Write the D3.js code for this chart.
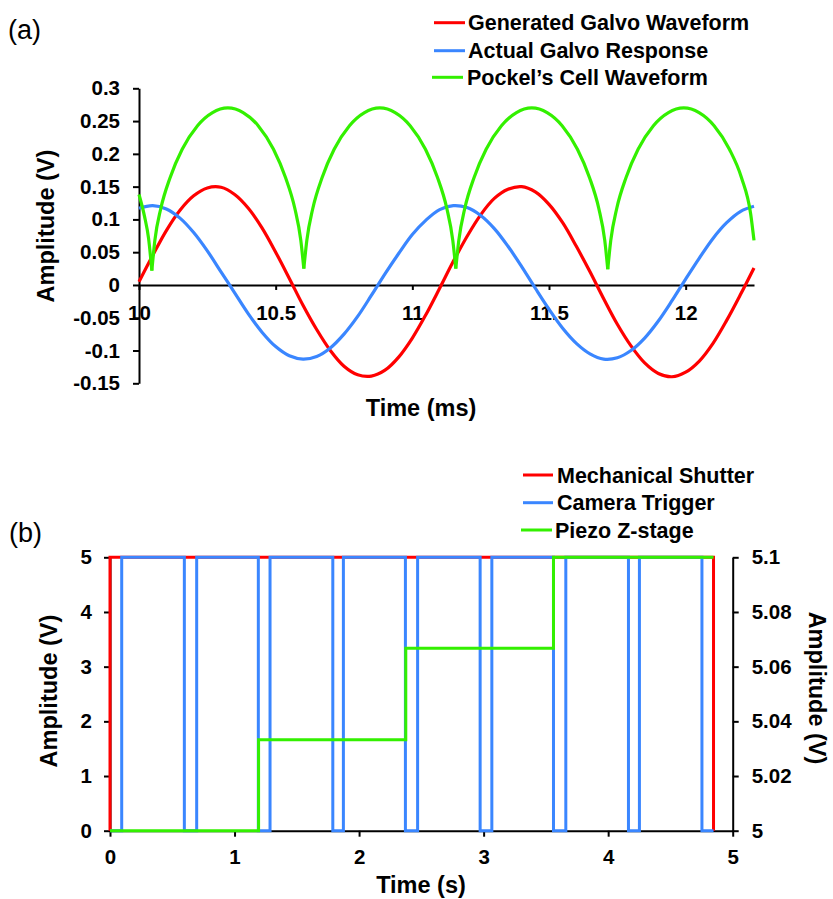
<!DOCTYPE html>
<html><head><meta charset="utf-8">
<script src="https://cdn.jsdelivr.net/npm/d3@7"></script>
<style>
body{margin:0;background:#fff;}
svg{display:block;font-family:"Liberation Sans",Arial,sans-serif;}
</style></head><body>
<svg id="c" width="833" height="899"></svg>
<script>
// ---------- Panel (a) data ----------
const timeA = [10,10.05,10.1,10.15,10.2,10.25,10.3,10.35,10.4,10.45,10.5,10.55,10.6,10.65,10.7,10.75,10.8,10.85,10.9,10.95,
  11,11.05,11.1,11.15,11.2,11.25,11.3,11.35,11.4,11.45,11.5,11.55,11.6,11.65,11.7,11.75,11.8,11.85,11.9,11.95,
  12,12.05,12.1,12.15,12.2,12.25];
const generatedGalvo = [0.005,0.045,0.083,0.114,0.136,0.148,0.149,0.138,0.117,0.087,0.050,0.010,-0.031,-0.068,-0.100,-0.124,-0.137,-0.139,-0.130,-0.110,
  -0.081,-0.045,-0.005,0.036,0.074,0.107,0.132,0.146,0.150,0.142,0.123,0.095,0.059,0.020,-0.021,-0.060,-0.093,-0.119,-0.135,-0.140,
  -0.133,-0.116,-0.089,-0.054,-0.015,0.026];
const actualGalvo = [0.117,0.121,0.116,0.102,0.080,0.052,0.020,-0.012,-0.044,-0.072,-0.094,-0.108,-0.113,-0.109,-0.096,-0.075,-0.048,-0.016,0.017,0.048,
  0.077,0.099,0.115,0.121,0.118,0.106,0.086,0.059,0.028,-0.005,-0.037,-0.066,-0.089,-0.105,-0.113,-0.111,-0.100,-0.081,-0.055,-0.024,
  0.009,0.041,0.071,0.095,0.112,0.120];
const pockelsTime = [10,10.02,10.035,10.047,
  10.058,10.080,10.114,10.158,10.214,10.269,10.325,10.381,10.436,10.492,10.536,10.570,10.592,10.603,
  10.614,10.636,10.670,10.714,10.770,10.825,10.881,10.937,10.992,11.048,11.092,11.126,11.148,11.159,
  11.170,11.192,11.226,11.270,11.326,11.381,11.437,11.493,11.548,11.604,11.648,11.682,11.704,11.715,
  11.726,11.748,11.782,11.826,11.882,11.937,11.993,12.049,12.104,12.160,12.204,12.238,12.25];
const pockelsCell = [0.138,0.105,0.071,0.022,
  0.068,0.117,0.164,0.207,0.243,0.263,0.270,0.263,0.243,0.207,0.164,0.117,0.068,0.025,
  0.068,0.117,0.164,0.207,0.243,0.263,0.270,0.263,0.243,0.207,0.164,0.117,0.068,0.025,
  0.068,0.117,0.164,0.207,0.243,0.263,0.270,0.263,0.243,0.207,0.164,0.117,0.068,0.024,
  0.068,0.117,0.164,0.207,0.243,0.263,0.270,0.263,0.243,0.207,0.164,0.108,0.068];
const xTicksA = [10,10.5,11,11.5,12];
const yTicksA = [-0.15,-0.1,-0.05,0,0.05,0.1,0.15,0.2,0.25,0.3];
const legendA = ["Generated Galvo Waveform","Actual Galvo Response","Pockel\u2019s Cell Waveform"];

// ---------- Panel (b) data ----------
const shutterTime = [0,0,4.846];
const shutterV    = [0,5,0];
const cameraTime = [0,0.094,0.597,0.696,1.191,1.285,1.789,1.874,2.372,2.470,2.972,3.066,3.561,3.660,4.163,4.251,4.753,4.846];
const cameraV    = [0,5,0,5,0,5,0,5,0,5,0,5,0,5,0,5,0,0];
const piezoTime = [0,1.193,2.375,3.561,4.846];
const piezoV    = [5,5.0333,5.0667,5.1,5.1];
const xTicksB = [0,1,2,3,4,5];
const yTicksB = [0,1,2,3,4,5];
const yTicksBR = [5,5.02,5.04,5.06,5.08,5.1];
const legendB = ["Mechanical Shutter","Camera Trigger","Piezo Z-stage"];

const colors = ["#FF0000","#3A86FF","#33F000"];

const svg = d3.select("#c");
const fmt = d => String(+(+d).toFixed(2));

function styleAxis(g, fs){
  g.selectAll("path.domain").attr("stroke","#000").attr("stroke-width",2);
  g.selectAll(".tick line").attr("stroke","#000").attr("stroke-width",2);
  g.selectAll(".tick text").attr("fill","#000").attr("font-size",fs).attr("font-weight","bold")
    .attr("font-family","'Liberation Sans',Arial,sans-serif");
}

// ================= Panel (a) =================
const xA = d3.scaleLinear().domain([10,12.25]).range([139,754]);
const yA = d3.scaleLinear().domain([-0.15,0.3]).range([383.3,88.3]);

svg.append("text").attr("x",8).attr("y",39).attr("font-size",27).text("(a)");

const gxA = svg.append("g").attr("transform",`translate(0,${yA(0)})`)
  .call(d3.axisBottom(xA).tickValues(xTicksA).tickSize(5).tickPadding(15).tickSizeOuter(0).tickFormat(fmt));
styleAxis(gxA,20.5);
const gyA = svg.append("g").attr("transform",`translate(${xA(10)},0)`)
  .call(d3.axisLeft(yA).tickValues(yTicksA).tickSize(6).tickPadding(13).tickSizeOuter(0).tickFormat(fmt));
styleAxis(gyA,20.5);

svg.append("text").attr("transform","translate(46,226) rotate(-90)").attr("text-anchor","middle")
  .attr("dy","0.35em").attr("font-size",23.5).attr("font-weight","bold").text("Amplitude (V)");
svg.append("text").attr("x",421).attr("y",416).attr("text-anchor","middle")
  .attr("font-size",23.5).attr("font-weight","bold").text("Time (ms)");

const lineA = d3.line().x(d=>xA(d[0])).y(d=>yA(d[1])).curve(d3.curveCatmullRom.alpha(0.5));
[generatedGalvo, actualGalvo].forEach((s,i)=>{
  svg.append("path").attr("d", lineA(timeA.map((t,j)=>[t,s[j]])))
    .attr("fill","none").attr("stroke",colors[i]).attr("stroke-width",3.2);
});
// Pockel's cell: split at cusps (local minima) so each arch is drawn smooth with sharp cusps
(function(){
  const pts = pockelsTime.map((t,j)=>[t,pockelsCell[j]]);
  const segs=[]; let cur=[pts[0]];
  for(let j=1;j<pts.length;j++){
    cur.push(pts[j]);
    if(j<pts.length-1 && pts[j][1]<pts[j-1][1] && pts[j][1]<pts[j+1][1]){ segs.push(cur); cur=[pts[j]]; }
  }
  segs.push(cur);
  const lg = d3.line().x(d=>xA(d[0])).y(d=>yA(d[1])).curve(d3.curveMonotoneX);
  segs.forEach(s=>svg.append("path").attr("d",lg(s)).attr("fill","none")
    .attr("stroke",colors[2]).attr("stroke-width",3.2).attr("stroke-linejoin","miter"));
})();

// legend (a)
legendA.forEach((l,i)=>{
  const y=[22.7,50.7,77.3][i];
  svg.append("line").attr("x1",i==2?432:434).attr("x2",i==2?463:465).attr("y1",y).attr("y2",y)
    .attr("stroke",colors[i]).attr("stroke-width",3);
  svg.append("text").attr("x",i==2?467:468).attr("y",y).attr("dy","0.36em").attr("font-size",21.5)
    .attr("font-weight","bold").text(l);
});

// ================= Panel (b) =================
const xB = d3.scaleLinear().domain([0,5]).range([110,732.7]);
const yB = d3.scaleLinear().domain([0,5]).range([830.7,557.3]);
const yBR = d3.scaleLinear().domain([5,5.1]).range([830.7,557.3]);

svg.append("text").attr("x",9).attr("y",542).attr("font-size",27).text("(b)");

const gxB = svg.append("g").attr("transform",`translate(0,${yB(0)})`)
  .call(d3.axisBottom(xB).tickValues(xTicksB).tickSize(6).tickPadding(13).tickSizeOuter(0).tickFormat(fmt));
styleAxis(gxB,20.5);
const gyB = svg.append("g").attr("transform",`translate(${xB(0)},0)`)
  .call(d3.axisLeft(yB).tickValues(yTicksB).tickSize(6).tickPadding(12).tickSizeOuter(0).tickFormat(fmt));
styleAxis(gyB,20.5);
const gyBR = svg.append("g").attr("transform",`translate(${xB(5)},0)`)
  .call(d3.axisRight(yBR).tickValues(yTicksBR).tickSize(6).tickPadding(13).tickSizeOuter(0).tickFormat(fmt));
styleAxis(gyBR,20.5);

svg.append("text").attr("transform","translate(49,691) rotate(-90)").attr("text-anchor","middle")
  .attr("dy","0.35em").attr("font-size",23.5).attr("font-weight","bold").text("Amplitude (V)");
svg.append("text").attr("transform","translate(817,688) rotate(90)").attr("text-anchor","middle")
  .attr("dy","0.35em").attr("font-size",23.5).attr("font-weight","bold").text("Amplitude (V)");
svg.append("text").attr("x",421).attr("y",893).attr("text-anchor","middle")
  .attr("font-size",23.5).attr("font-weight","bold").text("Time (s)");

const stepL = d3.line().x(d=>xB(d[0])).y(d=>yB(d[1])).curve(d3.curveStepAfter);
const stepR = d3.line().x(d=>xB(d[0])).y(d=>yBR(d[1])).curve(d3.curveStepAfter);
svg.append("path").attr("d",stepL(shutterTime.map((t,j)=>[t,shutterV[j]])))
  .attr("fill","none").attr("stroke",colors[0]).attr("stroke-width",3);
svg.append("path").attr("d",stepL(cameraTime.map((t,j)=>[t,cameraV[j]])))
  .attr("fill","none").attr("stroke",colors[1]).attr("stroke-width",3);
svg.append("path").attr("d",stepR(piezoTime.map((t,j)=>[t,piezoV[j]])))
  .attr("fill","none").attr("stroke",colors[2]).attr("stroke-width",3);

legendB.forEach((l,i)=>{
  const y=[475,502.7,530][i];
  svg.append("line").attr("x1",i==2?521:523).attr("x2",i==2?552:553).attr("y1",y).attr("y2",y)
    .attr("stroke",colors[i]).attr("stroke-width",3);
  svg.append("text").attr("x",i==2?555:557).attr("y",y).attr("dy","0.36em").attr("font-size",21.5)
    .attr("font-weight","bold").text(l);
});
</script>
</body></html>
